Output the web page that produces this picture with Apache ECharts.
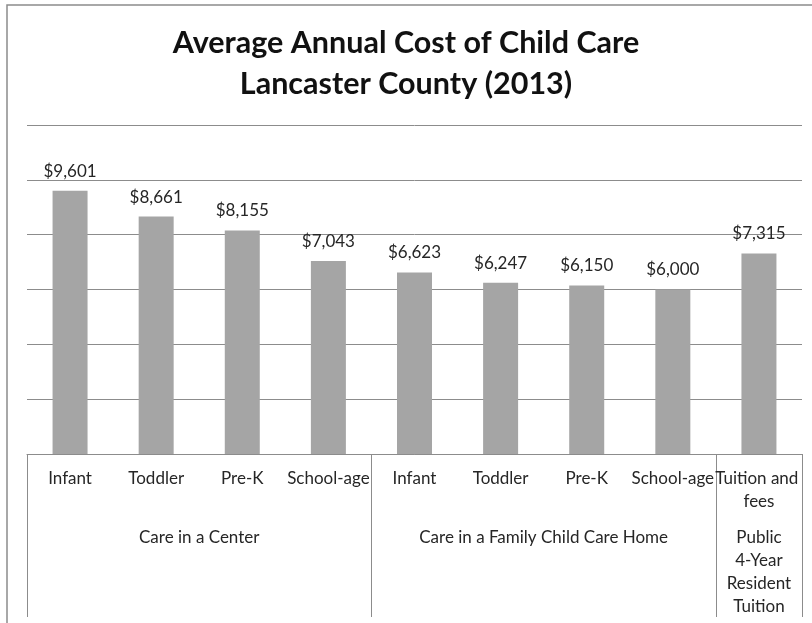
<!DOCTYPE html>
<html>
<head>
<meta charset="utf-8">
<script src="https://cdn.jsdelivr.net/npm/echarts@6/dist/echarts.min.js"></script>
<style>
  html, body { margin: 0; padding: 0; background: #fff; }
  #chart { width: 812px; height: 623px; }
</style>
</head>
<body>
<div id="chart"></div>
<script>
const categories = ['Infant', 'Toddler', 'Pre-K', 'School-age', 'Infant', 'Toddler', 'Pre-K', 'School-age', 'Tuition and fees']
const costs = [9601, 8661, 8155, 7043, 6623, 6247, 6150, 6000, 7315]
const groups = ['Care in a Center', 'Care in a Family Child Care Home', 'Public\n4-Year\nResident\nTuition']
const groupSizes = [4, 4, 1]
const yMax = 12000
const yStep = 2000

// group boundaries and centres, in category units
const bounds = [0]
const centers = []
groupSizes.forEach((n, i) => {
  centers.push(bounds[i] + n / 2)
  bounds.push(bounds[i] + n)
})

const gray = '#8c8c8c'
const font = 'Lato, "Open Sans", sans-serif'

const chart = echarts.init(document.getElementById('chart'))

chart.setOption({
  animation: false,
  title: {
    text: 'Average Annual Cost of Child Care\nLancaster County (2013)',
    left: 'center',
    top: 23,
    padding: [0, 0, 0, 28],
    textStyle: {
      fontFamily: font,
      fontSize: 30.5,
      fontWeight: 'bold',
      color: '#111',
      lineHeight: 41
    }
  },
  graphic: [{
    type: 'rect',
    shape: { x: 7, y: 5, width: 1000, height: 1000 },
    style: { fill: 'none', stroke: gray, lineWidth: 1.5 },
    silent: true
  }],
  grid: { left: 27, right: 10, top: 125, bottom: 169 },
  xAxis: [
    {
      type: 'category',
      data: categories,
      axisLine: { lineStyle: { color: gray } },
      axisTick: { interval: 0, length: 59, lineStyle: { color: gray } },
      axisLabel: {
        interval: 0,
        margin: 13,
        width: 96,
        overflow: 'break',
        lineHeight: 23,
        fontFamily: font,
        fontSize: 17,
        color: '#262626'
      }
    },
    {
      type: 'value',
      position: 'bottom',
      min: 0,
      max: categories.length,
      axisLine: { show: false },
      splitLine: { show: false },
      axisTick: { show: true, customValues: bounds, length: 163, lineStyle: { color: gray } },
      axisLabel: {
        customValues: centers,
        formatter: v => groups[centers.indexOf(v)],
        margin: 72,
        lineHeight: 23,
        align: 'center',
        fontFamily: font,
        fontSize: 17,
        color: '#262626'
      }
    }
  ],
  yAxis: {
    type: 'value',
    min: 0,
    max: yMax,
    interval: yStep,
    axisLabel: { show: false },
    axisLine: { show: false },
    axisTick: { show: false },
    splitLine: { lineStyle: { color: gray, width: 1 } }
  },
  series: [{
    type: 'bar',
    data: costs,
    barWidth: 35,
    itemStyle: { color: '#a5a5a5' },
    label: {
      show: true,
      position: 'top',
      distance: 11,
      formatter: p => '$' + p.value.toLocaleString('en-US'),
      fontFamily: font,
      fontSize: 17,
      color: '#262626'
    }
  }]
})
</script>
</body>
</html>
